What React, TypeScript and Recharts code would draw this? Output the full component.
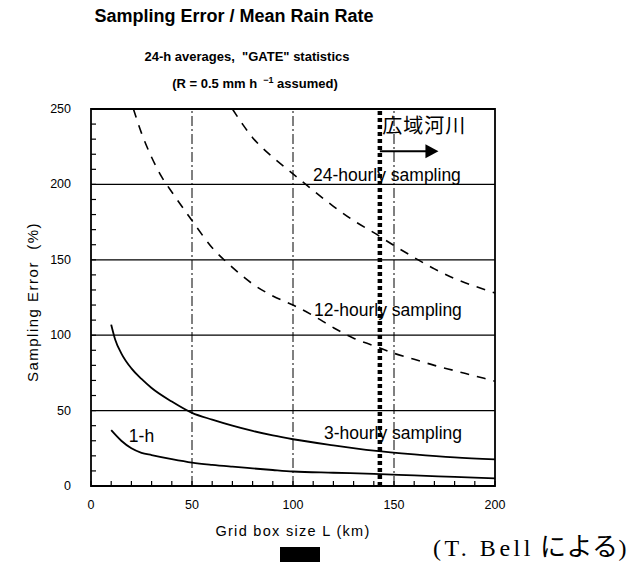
import React from "react";
import { LineChart, Line, XAxis, YAxis, ReferenceLine, ReferenceDot, ReferenceArea } from "recharts";

const FONT = "'Liberation Sans', Arial, sans-serif";

// grid box size L (km) and sampling error (%) for each sampling interval
const KM_1H = [10, 15, 20, 25, 30, 40, 50, 60, 70, 80, 90, 100, 120, 140, 160, 180, 200];
const ERR_1H = [37, 30, 25, 22, 20.5, 17.8, 15.5, 14, 12.8, 11.7, 10.6, 9.6, 8.8, 8.1, 7, 6, 5];

const KM_3H = [10, 12, 15, 20, 25, 30, 40, 50, 60, 70, 80, 90, 100, 120, 140, 160, 180, 200];
const ERR_3H = [107, 97, 88, 78, 71, 65, 56, 48.5, 44, 40, 36.5, 33.5, 31, 27, 23.5, 21, 19, 17.7];

const KM_12H = [21, 25, 30, 35, 40, 50, 60, 70, 80, 90, 100, 110, 120, 130, 140, 150, 160, 170, 180, 190, 200];
const ERR_12H = [250, 234, 218, 205, 195, 176, 158, 145, 134, 126, 120, 113, 105, 98, 93, 88, 84, 80, 76.5, 73, 69.5];

const KM_24H = [70, 75, 80, 85, 90, 100, 110, 120, 130, 140, 150, 160, 170, 180, 190, 200];
const ERR_24H = [250, 240, 231, 224, 218, 207, 196, 185.5, 176, 168, 159.5, 151.5, 144, 137.5, 132.5, 128];

// every 10 km / 10 %, labelled every 50
const X_TICKS = [0, 10, 20, 30, 40, 50, 60, 70, 80, 90, 100, 110, 120, 130, 140, 150, 160, 170, 180, 190, 200];
const Y_TICKS = [0, 10, 20, 30, 40, 50, 60, 70, 80, 90, 100, 110, 120, 130, 140, 150, 160, 170, 180, 190, 200, 210, 220, 230, 240, 250];
const LABEL_STEP = 50;
const H_GRID = [50, 100, 150, 200];
const V_GRID = [50, 100, 150];

const X_MAX = 200;
const Y_MAX = 250;
const TICK_LEN = 5;
const X_MARGIN = 14;
const Y_MARGIN = 20;

const RIVER_KM = 143; // 広域河川 boundary
const ARROW_Y = 222;
const ARROW_END = 172;

const NOTES = [
  { text: "24-hourly sampling", x: 146.5, y: 206.5 },
  { text: "12-hourly sampling", x: 147, y: 117 },
  { text: "3-hourly sampling", x: 149.5, y: 35 },
  { text: "1-h", x: 25, y: 33 },
];

const toPoints = (km: number[], err: number[]) => km.map((x, i) => ({ x, y: err[i] }));

const noteLabel = (text: string, size: number, family = FONT, spacing = 0) => (props: any) => {
  const vb = props.viewBox;
  const cx = vb.x + vb.width / 2;
  const cy = vb.y + vb.height / 2;
  return (
    <text x={cx} y={cy} textAnchor="middle" dominantBaseline="central" fontSize={size} fontFamily={family} letterSpacing={spacing} fill="#000">
      {text}
    </text>
  );
};

const arrowHead = (p: any) => (
  <polygon points={`${p.cx},${p.cy} ${p.cx - 13},${p.cy - 7} ${p.cx - 13},${p.cy + 7}`} fill="#000" />
);

const isMajor = (v: number) => v % LABEL_STEP === 0;

// axis ticks: inward tick mark plus label for the major values
const BottomTick = (p: any) => {
  const v = p.payload.value;
  const axisY = p.y - X_MARGIN;
  return (
    <g>
      {p.index === 0 && p.width ? <line x1={p.x} x2={p.x + p.width} y1={axisY} y2={axisY} stroke="#000" strokeWidth={1.8} /> : null}
      <line x1={p.x} x2={p.x} y1={axisY} y2={axisY - TICK_LEN} stroke="#000" strokeWidth={1.2} />
      {isMajor(v) ? (
        <text x={p.x} y={p.y + 9} textAnchor="middle" fontSize={12.5} fontFamily={FONT} fill="#000">
          {v}
        </text>
      ) : null}
    </g>
  );
};

const LeftTick = (p: any) => {
  const v = p.payload.value;
  const axisX = p.x + Y_MARGIN;
  return (
    <g>
      <line x1={axisX} x2={axisX + TICK_LEN} y1={p.y} y2={p.y} stroke="#000" strokeWidth={1.2} />
      {isMajor(v) ? (
        <text x={p.x} y={p.y} textAnchor="end" dominantBaseline="central" fontSize={12.5} fontFamily={FONT} fill="#000">
          {v}
        </text>
      ) : null}
    </g>
  );
};

const TopTick = (p: any) => <line x1={p.x} x2={p.x} y1={p.y} y2={p.y + TICK_LEN} stroke="#000" strokeWidth={1.2} />;
const RightTick = (p: any) => <line x1={p.x} x2={p.x - TICK_LEN} y1={p.y} y2={p.y} stroke="#000" strokeWidth={1.2} />;

export default function App() {
  return (
    <div style={{ position: "absolute", left: 0, top: 0, width: 637, height: 563, background: "#fff", fontFamily: FONT, color: "#000" }}>
      <div style={{ position: "absolute", left: 0, width: 468, top: 6, textAlign: "center", fontSize: 18, fontWeight: "bold" }}>
        Sampling Error / Mean Rain Rate
      </div>
      <div style={{ position: "absolute", left: 0, width: 494, top: 49, textAlign: "center", fontSize: 13, fontWeight: "bold" }}>
        24-h averages,&nbsp; "GATE" statistics
      </div>
      <div style={{ position: "absolute", left: 0, width: 510, top: 75, textAlign: "center", fontSize: 13, fontWeight: "bold" }}>
        (R = 0.5 mm h <sup style={{ fontSize: 9 }}>&nbsp;−1</sup> assumed)
      </div>

      <LineChart width={637} height={563} margin={{ top: 109, right: 142, bottom: 0, left: 0 }}>
        <XAxis
          dataKey="x"
          type="number"
          domain={[0, X_MAX]}
          ticks={X_TICKS}
          interval={0}
          height={77}
          tickSize={0}
          tickMargin={X_MARGIN}
          tick={BottomTick}
          tickLine={false}
          axisLine={false}
        />
        <YAxis
          type="number"
          domain={[0, Y_MAX]}
          ticks={Y_TICKS}
          interval={0}
          width={91}
          tickSize={0}
          tickMargin={Y_MARGIN}
          tick={LeftTick}
          tickLine={false}
          axisLine={false}
        />
        <XAxis xAxisId="top" orientation="top" type="number" domain={[0, X_MAX]} ticks={X_TICKS} interval={0} height={0} tickSize={0} tickMargin={0} tick={TopTick} tickLine={false} axisLine={false} />
        <YAxis yAxisId="right" orientation="right" type="number" domain={[0, Y_MAX]} ticks={Y_TICKS} interval={0} width={0} tickSize={0} tickMargin={0} tick={RightTick} tickLine={false} axisLine={false} />

        {H_GRID.map((v) => (
          <ReferenceLine key={"h" + v} y={v} stroke="#000" strokeWidth={1.2} />
        ))}
        {V_GRID.map((v) => (
          <ReferenceLine key={"v" + v} x={v} stroke="#000" strokeWidth={1} strokeDasharray="10 3 2 3" />
        ))}
        <ReferenceArea x1={0} x2={X_MAX} y1={0} y2={Y_MAX} fill="none" stroke="#000" strokeWidth={1.8} ifOverflow="visible" />

        <Line data={toPoints(KM_24H, ERR_24H)} dataKey="y" type="monotone" stroke="#000" strokeWidth={1.6} strokeDasharray="9 8" dot={false} isAnimationActive={false} />
        <Line data={toPoints(KM_12H, ERR_12H)} dataKey="y" type="monotone" stroke="#000" strokeWidth={1.6} strokeDasharray="9 8" dot={false} isAnimationActive={false} />
        <Line data={toPoints(KM_3H, ERR_3H)} dataKey="y" type="monotone" stroke="#000" strokeWidth={1.8} dot={false} isAnimationActive={false} />
        <Line data={toPoints(KM_1H, ERR_1H)} dataKey="y" type="monotone" stroke="#000" strokeWidth={1.8} dot={false} isAnimationActive={false} />

        <ReferenceLine x={RIVER_KM} stroke="#000" strokeWidth={4.5} strokeDasharray="4 3" />
        <ReferenceLine
          segment={[
            { x: RIVER_KM, y: ARROW_Y },
            { x: ARROW_END - 5, y: ARROW_Y },
          ]}
          stroke="#000"
          strokeWidth={2}
        />
        <ReferenceDot x={ARROW_END} y={ARROW_Y} r={0} shape={arrowHead} />
        <ReferenceDot x={165} y={240} r={0} fill="none" stroke="none" label={noteLabel("広域河川", 20, "'Noto Sans CJK JP', sans-serif", 1)} />
        {NOTES.map((n) => (
          <ReferenceDot key={n.text} x={n.x} y={n.y} r={0} fill="none" stroke="none" label={noteLabel(n.text, 17.5)} />
        ))}
      </LineChart>

      <div
        style={{
          position: "absolute",
          left: 32,
          top: 302,
          transform: "translate(-50%, -50%) rotate(-90deg)",
          whiteSpace: "nowrap",
          fontSize: 15,
          letterSpacing: 1.5,
        }}
      >
        Sampling Error&nbsp; (%)
      </div>
      <div style={{ position: "absolute", left: 183, width: 220, top: 523, textAlign: "center", fontSize: 14.5, letterSpacing: 1.3 }}>
        Grid box size L (km)
      </div>
      <div style={{ position: "absolute", left: 280, top: 547, width: 40, height: 15, background: "#000" }} />
      <div
        style={{
          position: "absolute",
          left: 433,
          top: 530,
          fontSize: 24,
          lineHeight: "30px",
          whiteSpace: "nowrap",
          fontFamily: "'Liberation Serif', 'Noto Sans CJK JP', serif",
        }}
      >
        <span style={{ letterSpacing: 3.5 }}>(T. Bell</span>
        <span style={{ fontFamily: "'Noto Sans CJK JP', sans-serif", fontSize: 26, marginLeft: 6, letterSpacing: 0.5 }}>による</span>)
      </div>
    </div>
  );
}
